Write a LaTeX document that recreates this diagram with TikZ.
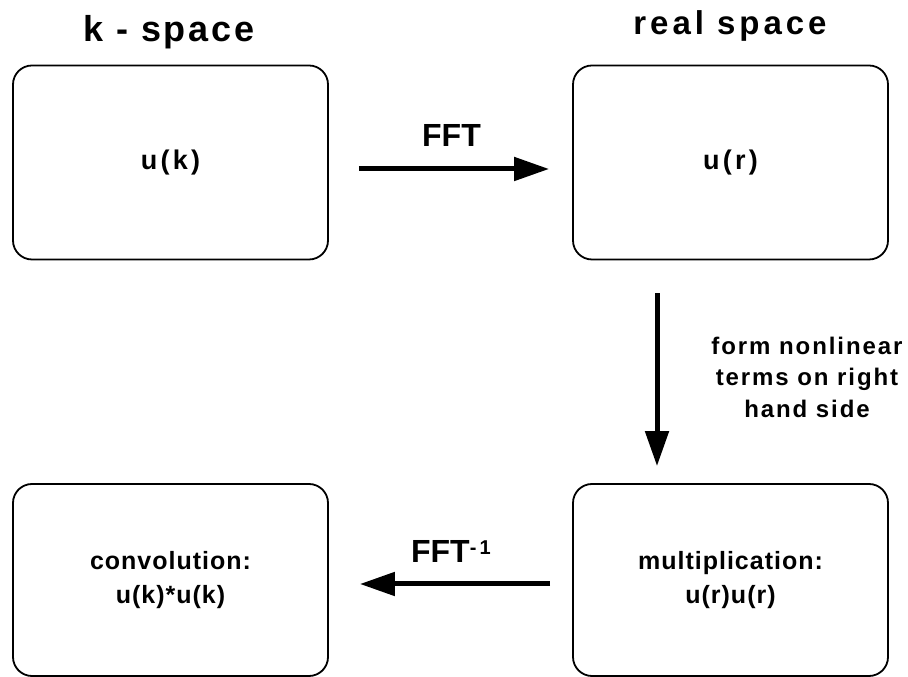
\documentclass[tikz,border=0pt]{standalone}
\usepackage{fontspec}
\setmainfont{Liberation Sans}
\newfontfamily\wide{Liberation Sans}[LetterSpace=4]
\newfontfamily\wider{Liberation Sans}[LetterSpace=8]
\newfontfamily\widest{Liberation Sans}[LetterSpace=12]
\usetikzlibrary{arrows.meta}

\tikzset{
  box/.style={draw, line width=1.8pt, rounded corners=19pt,
    minimum width=315pt, minimum height=194pt, align=center, inner sep=0pt,
    font=\wide\bfseries\fontsize{25}{34}\selectfont},
  flow/.style={line width=5pt, -{Triangle[length=35pt,width=23pt]}},
  title/.style={anchor=base, font=\widest\bfseries\fontsize{33}{33}\selectfont},
  lbl/.style={font=\bfseries\fontsize{32}{32}\selectfont}
}

\begin{document}
\begin{tikzpicture}[x=1pt, y=1pt]
\useasboundingbox (0,0) rectangle (908,677);

% Column headings
\node[title, font=\wider\bfseries\fontsize{36}{36}\selectfont] (kt) at (169, 635) {k - space};
\node[title] (rt) at (730, 642) {real space};

% The four boxes
\node[box, font=\widest\bfseries\fontsize{27}{27}\selectfont] (uk) at (170.5, 514.5) {u(k)};
\node[box, font=\widest\bfseries\fontsize{27}{27}\selectfont] (ur) at (730.5, 514.5) {u(r)};
\node[box, minimum height=192pt] (conv) at (170.5, 97) {convolution:\\u(k)*u(k)};
\node[box, minimum height=192pt] (mult) at (730.5, 97) {multiplication:\\u(r)u(r)};

% Forward transform
\draw[flow, shorten <=30pt, shorten >=23pt] ([yshift=-6.5pt]uk.east) -- ([yshift=-6.5pt]ur.west);
\node[lbl] (fft) at (451.5, 541) {FFT};

% Products in real space
\draw[flow, shorten <=33pt, shorten >=17pt] ([xshift=-73.5pt]ur.south) -- ([xshift=-73.5pt]mult.north);
\node[align=center, font=\wider\bfseries\fontsize{24}{31.5}\selectfont] (rhs) at (807, 300)
  {form nonlinear\\terms on right\\hand side};

% Back to k-space
\draw[flow, shorten <=22pt, shorten >=31pt] ([yshift=-4pt]mult.west) -- ([yshift=-4pt]conv.east);
\node[lbl] (ifft) at (451, 125.5) {FFT\raisebox{8pt}{\fontsize{20}{20}\selectfont-\,1}};

\end{tikzpicture}
\end{document}
